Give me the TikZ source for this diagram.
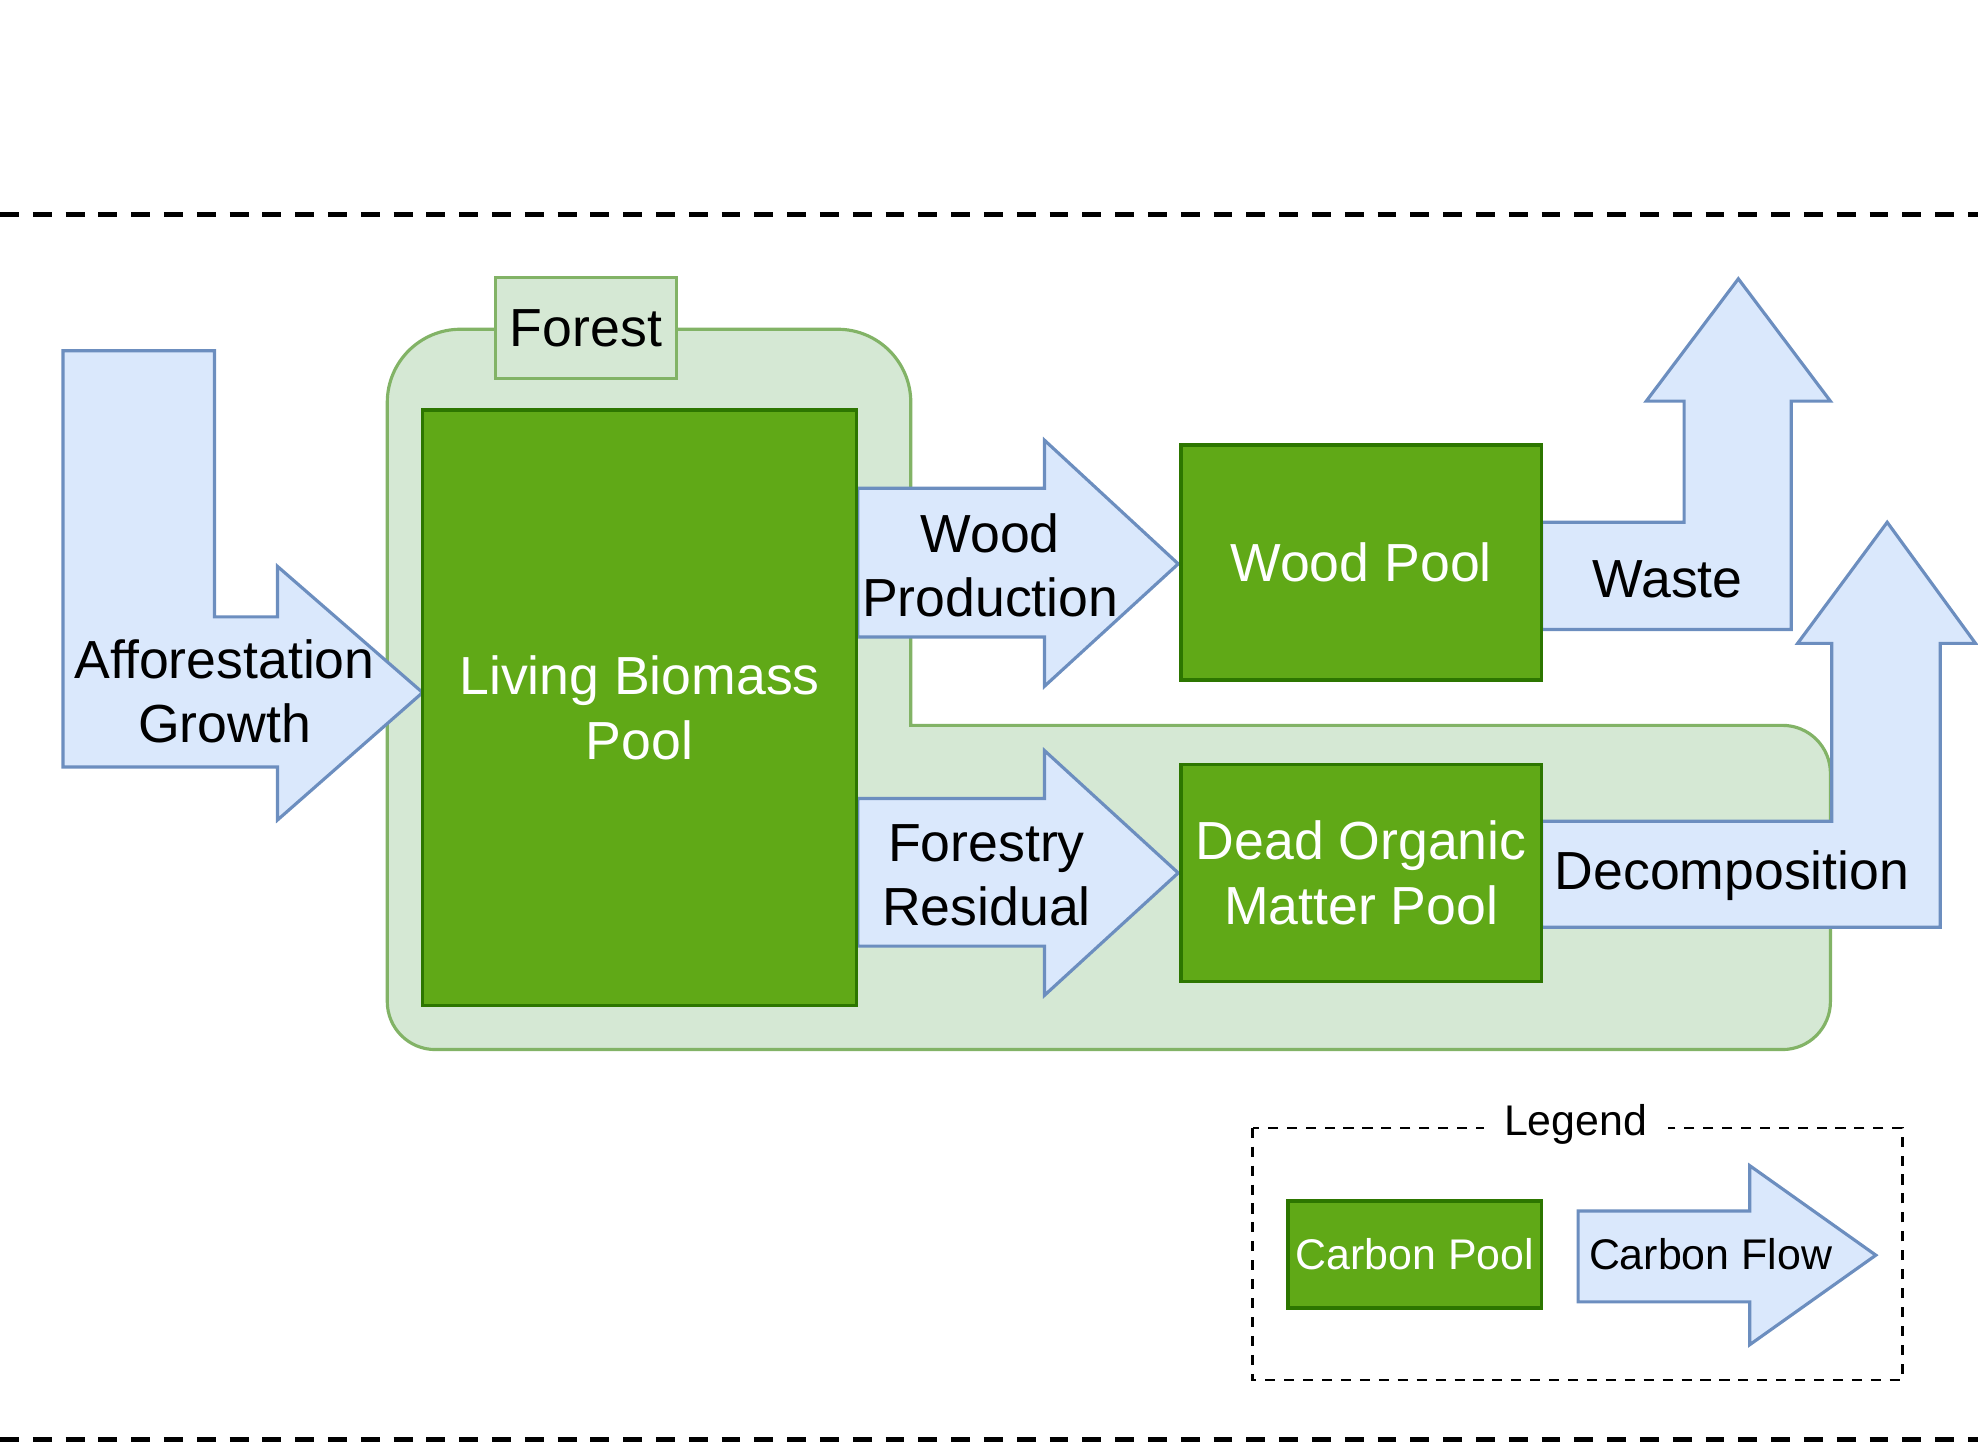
\documentclass[tikz,border=0pt]{standalone}
\usepackage{fontspec}
\setmainfont{Liberation Sans}
\definecolor{flowfill}{HTML}{DAE8FC}
\definecolor{flowline}{HTML}{6C8EBF}
\definecolor{poolfill}{HTML}{60A917}
\definecolor{poolline}{HTML}{2D7600}
\definecolor{forestfill}{HTML}{D5E8D4}
\definecolor{forestline}{HTML}{82B366}
\newcommand\bigtxt{\fontsize{42.5}{51}\selectfont}
\newcommand\smalltxt{\fontsize{34}{40}\selectfont}
\begin{document}
\begin{tikzpicture}[x=1pt,y=-1pt,
  pool/.style={draw=poolline, fill=poolfill, line width=3pt, text=white, font=\bigtxt, align=center, inner sep=0pt},
  flow/.style={draw=flowline, fill=flowfill, line width=2.5pt, line join=miter},
  forestbg/.style={draw=forestline, fill=forestfill, line width=2.5pt},
  lbl/.style={font=\bigtxt, align=center, text=black, inner sep=0pt},
  border/.style={line width=4pt, dash pattern=on 15pt off 11pt},
  legendbox/.style={line width=2pt, dash pattern=on 8pt off 7pt}]
\useasboundingbox (0,0) rectangle (1568,1145);
% frame lines
\coordinate (tl) at (0,170);
\coordinate (tr) at (1568,170);
\coordinate (bl) at (0,1141);
\coordinate (br) at (1568,1141);
\draw[border] (tl) -- (tr);
\draw[border] (bl) -- (br);
% forest region
\draw[forestbg] (307,794) -- (307,319) arc[start angle=180,end angle=270,radius=58]
  -- (664,261) arc[start angle=270,end angle=360,radius=58]
  -- (722,575) -- (1413,575) arc[start angle=270,end angle=360,radius=38]
  -- (1451,794) arc[start angle=0,end angle=90,radius=38]
  -- (345,832) arc[start angle=90,end angle=180,radius=38] -- cycle;
\node[draw=forestline, fill=forestfill, line width=2.5pt, minimum width=143pt, minimum height=80pt, inner sep=0pt, font=\bigtxt] (forest) at (464.5,260) {Forest};
% flows
\draw[flow] (50,278) -- (170,278) -- (170,489) -- (220,489) -- (220,449) -- (335,549) -- (220,650) -- (220,608) -- (50,608) -- cycle;
\draw[flow] (680,387) -- (828,387) -- (828,349) -- (934,447) -- (828,544) -- (828,505) -- (680,505) -- cycle;
\draw[flow] (680,633) -- (828,633) -- (828,595) -- (934,692) -- (828,789) -- (828,750) -- (680,750) -- cycle;
\draw[flow] (1222,414) -- (1335,414) -- (1335,318) -- (1305,318) -- (1378,221) -- (1451,318) -- (1420,318) -- (1420,499) -- (1222,499) -- cycle;
\draw[flow] (1222,651) -- (1452,651) -- (1452,510) -- (1425,510) -- (1496,414) -- (1566,510) -- (1538,510) -- (1538,735) -- (1222,735) -- cycle;
% pools
\node[pool, minimum width=344pt, minimum height=472pt] (lbp) at (507,561) {Living Biomass\\Pool};
\node[pool, minimum width=286pt, minimum height=186pt] (wood) at (1079,446) {Wood Pool};
\node[pool, minimum width=286pt, minimum height=172pt] (dom) at (1079,692) {Dead Organic\\Matter Pool};
% flow labels
\node[lbl] (afftxt) at (178,548) {Afforestation\\Growth};
\node[lbl] (wptxt) at (785,448) {Wood\\Production};
\node[lbl] (frtxt) at (782,694) {Forestry\\Residual};
\node[lbl] (wastetxt) at (1322,459) {Waste};
\node[lbl] (dectxt) at (1373,694) {Decomposition};
% legend
\draw[legendbox] (993,894) rectangle (1508,1094);
\node[fill=white, font=\smalltxt, inner sep=0pt, minimum width=146pt, minimum height=40pt] (legtitle) at (1249,891) {Legend};
\node[pool, font=\smalltxt, minimum width=201pt, minimum height=85pt] (cpool) at (1121.5,994.5) {Carbon Pool};
\draw[flow] (1251,960) -- (1387,960) -- (1387,924) -- (1487,995) -- (1387,1066) -- (1387,1032) -- (1251,1032) -- cycle;
\node[lbl, font=\smalltxt] (cflow) at (1356,994) {Carbon Flow};
\end{tikzpicture}
\end{document}
